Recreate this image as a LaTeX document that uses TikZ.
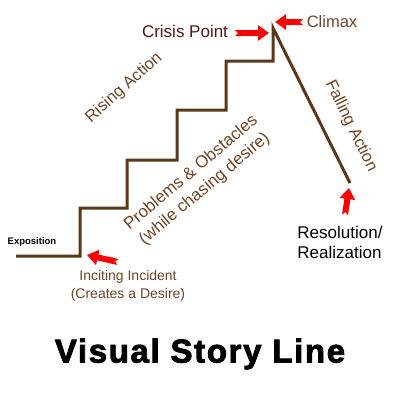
\documentclass[tikz,border=0pt]{standalone}
\usepackage{fontspec}
\setmainfont{Liberation Sans}
\newfontfamily\heavyfont[FakeBold=2.5,LetterSpace=5]{Liberation Sans Bold}
\usetikzlibrary{arrows.meta}

\definecolor{stairbrown}{RGB}{92,56,26}
\definecolor{labelbrown}{RGB}{110,70,40}
\definecolor{crisisred}{RGB}{80,24,24}

\begin{document}
\begin{tikzpicture}[x=1pt,y=-1pt]
    \tikzset{storyline/.style={draw=stairbrown,line width=3pt,line join=miter}}
    \tikzset{annot/.style={text=labelbrown,inner sep=0pt,font=\fontsize{16.5}{20}\selectfont}}
    \tikzset{small annot/.style={annot,align=center,font=\fontsize{14}{18}\selectfont}}
    \tikzset{pointer/.style={red,line width=6pt,
        {Triangle Cap[reversed]}-{Triangle[length=11pt,width=15pt]}}}

    \useasboundingbox[fill=white] (0,0) rectangle (400,400);

    % the staircase and the fall
    \draw[storyline] (16,256) -- (80,256) coordinate (inciting)
        -- (80,208) -- (127,208) -- (127,160) -- (177,160)
        -- (177,110) -- (226,110) -- (226,61) -- (273,61)
        -- (273,28) coordinate (peak) -- (350,183) coordinate (resolution);

    % labels along the line
    \node[inner sep=0pt,font=\fontsize{9.5}{11}\selectfont\bfseries] (expo) at (32,242) {Exposition};
    \node[annot,rotate=42] (rising) at (124,88) {Rising Action};
    \node[annot,align=center,rotate=40,font=\fontsize{17}{21}\selectfont] (problems) at (198,181)
        {Problems \& Obstacles\\(while chasing desire)};
    \node[annot,rotate=-64] (falling) at (351,126) {Falling Action};
    \node[annot,text=crisisred,font=\fontsize{17}{20}\selectfont] (crisis) at (185,31) {Crisis Point};
    \node[annot] (climax) at (332,22) {Climax};
    \node[small annot] (incident) at (128,286) {Inciting Incident\\(Creates a Desire)};
    \node[annot,text=black,align=left,font=\fontsize{17}{20}\selectfont] (realize) at (340,242) {Resolution/\\Realization};

    % red pointers
    \coordinate (crisis tail) at (235,33);
    \coordinate (crisis tip) at (269,33);
    \coordinate (climax tail) at (303,22);
    \coordinate (climax tip) at (275,22);
    \coordinate (res tail) at (345,215);
    \coordinate (res tip) at (349,188);
    \coordinate (inc tail) at (118,262);
    \coordinate (inc tip) at (87,255);
    \draw[pointer] (crisis tail) -- (crisis tip);
    \draw[pointer] (climax tail) -- (climax tip);
    \draw[pointer] (res tail) -- (res tip);
    \draw[pointer] (inc tail) -- (inc tip);

    % title
    \node[inner sep=0pt,font=\heavyfont\fontsize{33}{36}\selectfont] (title) at (200,354) {Visual Story Line};
\end{tikzpicture}
\end{document}
